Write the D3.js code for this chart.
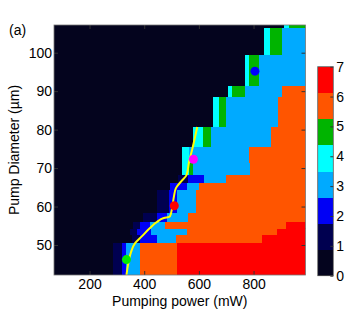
<!DOCTYPE html>
<html>
<head>
<meta charset="utf-8">
<script src="https://cdn.jsdelivr.net/npm/d3@7"></script>
<style>
body { margin: 0; background: #fff; }
svg text { font-family: "Liberation Sans", Arial, Helvetica, sans-serif; font-size: 14px; fill: #000; }
</style>
</head>
<body>
<script>
// Map extent (pump power in mW, pump diameter in um)
var powerRange = [70, 990];
var diamRange = [42.2, 107.2];

// Diameter edges of the horizontal bands, bottom to top
var diamEdges = [42.2, 50.6, 52.6, 54.3, 56.1, 58.3, 64.3, 66.2, 68.2, 71.3, 75.6, 80.8, 88.6, 91.3, 99.4, 106.6, 107.2];

// Runs in each band, left to right: [power where the run ends, level]
var bandRuns = [
    [[285, 0], [320, 1], [335, 2], [385, 3], [520, 6], [990, 7]],
    [[355, 0], [385, 1], [445, 2], [515, 3], [830, 6], [990, 7]],
    [[348, 0], [375, 1], [425, 2], [555, 3], [885, 6], [990, 7]],
    [[360, 0], [385, 1], [420, 2], [476, 3], [920, 6], [990, 7]],
    [[395, 0], [445, 1], [482, 2], [560, 3], [990, 6]],
    [[445, 0], [490, 1], [520, 2], [590, 3], [990, 6]],
    [[495, 0], [555, 2], [600, 3], [990, 6]],
    [[525, 0], [560, 1], [620, 2], [700, 3], [990, 6]],
    [[540, 0], [565, 4], [580, 5], [787, 3], [990, 6]],
    [[540, 0], [565, 4], [785, 3], [990, 6]],
    [[580, 0], [615, 4], [645, 5], [865, 3], [990, 6]],
    [[650, 0], [675, 4], [698, 5], [890, 3], [990, 6]],
    [[705, 0], [720, 4], [770, 5], [905, 3], [990, 6]],
    [[770, 0], [785, 4], [820, 5], [990, 3]],
    [[840, 0], [860, 4], [905, 5], [990, 3]],
    [[910, 0], [930, 4], [990, 5]]
];

// Colour of each level 0..7
var levelColors = ["#04041e", "#000050", "#0000f5", "#00aaff", "#00ffff", "#00b400", "#ff5500", "#ff0000"];

// Yellow threshold curve
var curvePower = [335, 342, 352, 366, 392, 421, 447, 472, 494, 502, 509, 516, 536, 555, 564, 575, 586, 594];
var curveDiam  = [42.2, 45.3, 48.2, 50.4, 52.3, 54.4, 56.0, 57.0, 57.4, 59.6, 62.7, 64.8, 66.6, 68.2, 71.6, 74.7, 78.1, 80.7];

// Marked operating points
var markPower = [335, 510, 580, 805];
var markDiam  = [46.2, 60.2, 72.3, 95.2];
var markColor = ["#00ee00", "#ff0000", "#ff00ff", "#0000ff"];

var xTicks = [200, 400, 600, 800];
var yTicks = [50, 60, 70, 80, 90, 100];
var cTicks = [0, 1, 2, 3, 4, 5, 6, 7];

var WIDTH = 349, HEIGHT = 312;
var MARGINS = {top: 25, left: 54, right: 305.5, bottom: 275};
var CBAR = {left: 317.7, right: 333.3, top: 66.7, bottom: 275.7};

var xScale = d3.scaleLinear().domain(powerRange).range([MARGINS.left, MARGINS.right]);
var yScale = d3.scaleLinear().domain(diamRange).range([MARGINS.bottom, MARGINS.top]);

var svg = d3.select("body").append("svg")
    .attr("width", WIDTH)
    .attr("height", HEIGHT);

svg.append("defs").append("clipPath").attr("id", "plotclip")
    .append("rect")
    .attr("x", MARGINS.left).attr("y", MARGINS.top)
    .attr("width", MARGINS.right - MARGINS.left)
    .attr("height", MARGINS.bottom - MARGINS.top);

var plot = svg.append("g").attr("clip-path", "url(#plotclip)");

// Heat map cells, band by band
var cells = [];
bandRuns.forEach(function(runs, b) {
    var start = powerRange[0];
    runs.forEach(function(r) {
        cells.push({p0: start, p1: r[0], d0: diamEdges[b], d1: diamEdges[b + 1], level: r[1]});
        start = r[0];
    });
});

plot.selectAll("rect.cell")
    .data(cells)
    .enter().append("rect")
    .attr("class", "cell")
    .attr("x", function(d) { return xScale(d.p0); })
    .attr("y", function(d) { return yScale(d.d1); })
    .attr("width", function(d) { return xScale(d.p1) - xScale(d.p0) + 0.3; })
    .attr("height", function(d) { return yScale(d.d0) - yScale(d.d1) + 0.3; })
    .attr("fill", function(d) { return levelColors[d.level]; })
    .attr("shape-rendering", "crispEdges");

// Threshold curve
var lineGen = d3.line()
    .x(function(d, i) { return xScale(curvePower[i]); })
    .y(function(d, i) { return yScale(curveDiam[i]); })
    .curve(d3.curveMonotoneY);

plot.append("path")
    .attr("d", lineGen(curvePower))
    .attr("fill", "none")
    .attr("stroke", "#ffff00")
    .attr("stroke-width", 2);

plot.selectAll("circle.mark")
    .data(markPower)
    .enter().append("circle")
    .attr("class", "mark")
    .attr("cx", function(d) { return xScale(d); })
    .attr("cy", function(d, i) { return yScale(markDiam[i]); })
    .attr("r", 4.5)
    .attr("fill", function(d, i) { return markColor[i]; });

// Axes, ticks pointing inward
function styleAxis(g, size) {
    g.selectAll("text").attr("font-size", size || 14).attr("font-family", "Liberation Sans, Arial, sans-serif");
    g.selectAll("line").attr("stroke", "#333");
    g.select(".domain").remove();
}

svg.append("g")
    .attr("transform", "translate(0," + MARGINS.bottom + ")")
    .call(d3.axisBottom(xScale).tickValues(xTicks).tickSize(-4).tickPadding(4.5))
    .call(styleAxis, 13.5);
svg.append("g")
    .attr("transform", "translate(0," + MARGINS.top + ")")
    .call(d3.axisTop(xScale).tickValues(xTicks).tickSize(-4).tickFormat(""))
    .call(styleAxis);
svg.append("g")
    .attr("transform", "translate(" + MARGINS.left + ",0)")
    .call(d3.axisLeft(yScale).tickValues(yTicks).tickSize(-4).tickPadding(2))
    .call(styleAxis);
svg.append("g")
    .attr("transform", "translate(" + MARGINS.right + ",0)")
    .call(d3.axisRight(yScale).tickValues(yTicks).tickSize(-4).tickFormat(""))
    .call(styleAxis);

svg.append("rect")
    .attr("x", MARGINS.left).attr("y", MARGINS.top)
    .attr("width", MARGINS.right - MARGINS.left)
    .attr("height", MARGINS.bottom - MARGINS.top)
    .attr("fill", "none")
    .attr("stroke", "#777")
    .attr("stroke-width", 0.8);

// Axis titles
svg.append("text")
    .attr("x", (MARGINS.left + MARGINS.right) / 2)
    .attr("y", 305.5)
    .attr("text-anchor", "middle")
    .text("Pumping power (mW)");

svg.append("text")
    .attr("transform", "translate(18.5," + (MARGINS.top + MARGINS.bottom) / 2 + ") rotate(-90)")
    .attr("text-anchor", "middle")
    .text("Pump Diameter (\u00b5m)");

svg.append("text")
    .attr("x", 9)
    .attr("y", 35)
    .text("(a)");

// Colour bar: 8 equal bands for levels 0..7
var cScale = d3.scaleLinear().domain([0, 7]).range([CBAR.bottom, CBAR.top]);
var bandH = (CBAR.bottom - CBAR.top) / levelColors.length;

svg.selectAll("rect.cbar")
    .data(levelColors)
    .enter().append("rect")
    .attr("class", "cbar")
    .attr("x", CBAR.left)
    .attr("y", function(d, i) { return CBAR.bottom - (i + 1) * bandH; })
    .attr("width", CBAR.right - CBAR.left)
    .attr("height", bandH + 0.3)
    .attr("fill", function(d) { return d; })
    .attr("shape-rendering", "crispEdges");

svg.append("g")
    .attr("transform", "translate(" + CBAR.right + ",0)")
    .call(d3.axisRight(cScale).tickValues(cTicks).tickSize(-3).tickPadding(3).tickFormat(d3.format("d")))
    .call(styleAxis);

svg.append("rect")
    .attr("x", CBAR.left).attr("y", CBAR.top)
    .attr("width", CBAR.right - CBAR.left)
    .attr("height", CBAR.bottom - CBAR.top)
    .attr("fill", "none")
    .attr("stroke", "#555")
    .attr("stroke-width", 0.8);
</script>
</body>
</html>
